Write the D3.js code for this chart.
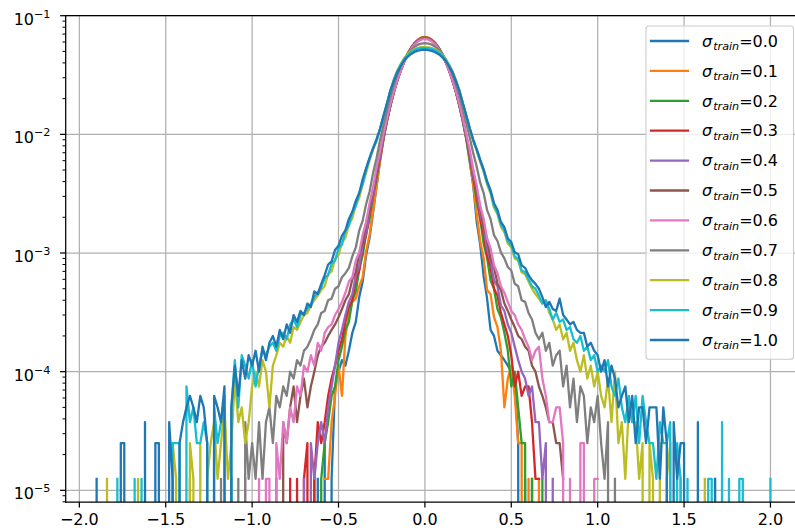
<!DOCTYPE html>
<html>
<head>
<meta charset="utf-8">
<script src="https://cdn.jsdelivr.net/npm/d3@7"></script>
<style>
  body { margin: 0; background: #ffffff; }
  svg { display: block; }
  text { font-family: "DejaVu Sans", sans-serif; }
</style>
</head>
<body>
<svg id="chart" width="795" height="531"></svg>
<script>
// ---------------- data ----------------
const sigmaLabels = ["0.0", "0.1", "0.2", "0.3", "0.4", "0.5", "0.6", "0.7", "0.8", "0.9", "1.0"];
const seriesColors = ["#1f77b4", "#ff7f0e", "#2ca02c", "#d62728", "#9467bd", "#8c564b",
                      "#e377c2", "#7f7f7f", "#bcbd22", "#17becf", "#1f77b4"];
const totalSamples = 80000;   // counts are divided by this to give the plotted frequency
const binWidth = 0.02;        // histogram bin width (x units)
const firstBinCenter = [-0.62, -0.58, -0.64, -0.78, -0.70, -0.86, -1.04, -1.36, -1.84, -1.78, -1.90];

const countsS00 = [1,0,2,0,1,6,8,10,9,
  12,17,21,34,46,77,108,176,290,478,730,1030,1380,1800,2290,2770,3300,3790,4260,4690,4970,5190,5240,5170,4990,4670,4280,3810,3290,2790,2270,1820,1390,1020,720,462,296,146,94,51,33,18,16,12,11,
  10,9,8,7,2,0,1,0,1];
const countsS01 = [1,1,3,5,9,5,16,
  24,31,33,42,50,83,114,180,292,470,720,1020,1390,1810,2300,2800,3320,3830,4300,4720,5020,5240,5300,5230,5030,4710,4310,3820,3330,2810,2310,1830,1410,1040,740,486,294,170,101,73,39,36,23,19,12,
  4,7,9,5,2,2,0,1,0,0,1];
const countsS02 = [1,0,1,2,3,5,6,10,13,18,
  21,32,38,58,77,116,155,241,338,507,735,1040,1400,1820,2290,2790,3300,3800,4270,4680,4990,5190,5250,5180,4980,4690,4280,3800,3290,2770,2280,1810,1390,1030,730,494,342,219,155,96,73,47,40,27,23,
  17,12,6,8,4,2,2,0,1,0,0,1];
const countsS03 = [1,0,1,0,1,2,0,1,3,2,3,5,7,9,12,15,21,
  28,32,47,57,88,114,173,240,361,503,745,1050,1410,1830,2300,2790,3300,3790,4250,4660,4970,5180,5230,5170,4970,4670,4270,3800,3300,2790,2290,1830,1410,1050,750,522,343,246,157,116,76,61,40,35,25,
  20,16,11,6,8,5,6,6,3,1,1];
const countsS04 = [1,0,2,1,2,3,2,4,6,9,14,18,24,
  31,36,52,62,94,119,181,246,372,518,750,1045,1395,1800,2270,2760,3270,3770,4230,4630,4930,5130,5190,5130,4940,4640,4240,3780,3280,2770,2270,1800,1390,1040,755,537,361,262,172,130,86,69,47,42,29,
  26,20,17,13,10,8,7,5,6,3,3,1,2,0,1];
const countsS05 = [1,0,3,2,4,6,3,5,7,4,6,8,11,13,14,16,18,20,23,27,32,
  36,48,55,80,96,143,185,277,378,557,770,1060,1410,1810,2260,2750,3260,3760,4210,4600,4900,5090,5150,5090,4900,4600,4210,3760,3260,2750,2260,1810,1410,1060,770,543,392,264,196,133,104,72,61,44,39,
  30,26,22,19,16,15,13,12,9,8,6,5,4,3,3,2,2,1];
const countsS06 = [1,0,0,0,1,0,1,1,0,2,1,3,2,4,3,6,5,9,8,11,9,14,12,17,19,20,24,27,31,37,
  46,50,69,81,114,146,211,284,417,573,800,1090,1440,1840,2280,2760,3260,3750,4190,4570,4860,5040,5100,5040,4860,4570,4190,3750,3260,2760,2280,1840,1440,1090,800,587,403,296,199,155,106,88,63,54,42,
  37,31,26,24,20,18,15,13,10,12,13,7,5,3,3,4,4,2,0,1,0,0,2,2,0,0,1,1];
const countsS07 = [1,0,0,0,0,0,0,0,0,1,0,0,1,0,1,0,3,1,2,1,3,1,3,4,2,5,4,6,5,8,7,10,9,12,13,15,18,20,25,26,32,33,40,42,50,54,
  60,75,89,124,150,207,264,377,503,708,960,1280,1680,2110,2560,3000,3440,3820,4130,4380,4560,4660,4700,4660,4560,4380,4130,3820,3440,3000,2560,2120,1700,1300,990,748,553,427,313,256,184,155,113,101,81,
  72,61,57,44,42,32,31,25,22,17,15,17,12,14,9,11,12,6,9,4,7,3,6,5,2,4,3,5,2,1,3,0,1];
const countsS08 = [1,0,0,0,0,0,0,0,0,1,0,0,0,0,0,0,0,0,0,2,1,0,0,0,2,1,0,2,0,1,2,3,1,2,4,1,2,7,3,4,2,3,6,8,6,10,8,4,9,11,14,13,16,14,19,18,21,24,25,29,32,35,39,
  42,53,56,71,77,98,108,139,157,202,234,305,380,485,600,700,870,1120,1450,1880,2310,2750,3130,3500,3790,4010,4170,4280,4340,4350,4330,4260,4150,3980,3750,3460,3100,2720,2290,1870,1460,1130,880,700,580,470,386,303,254,193,170,133,120,96,89,72,69,55,53,
  46,40,36,33,30,32,25,22,18,20,15,17,12,14,10,8,11,7,9,6,8,5,4,7,3,8,2,3,1,4,3,3,1,2,0,2,1,0,2,0,1,2,0,0,1,0,0,0,0,0,0,1];
const countsS09 = [1,0,0,0,0,1,0,1,0,0,0,0,0,0,0,0,2,2,2,0,6,3,4,2,2,3,2,0,4,2,3,5,0,4,10,4,11,9,7,10,6,9,12,11,13,14,12,16,17,15,20,22,19,24,25,27,30,34,37,41,
  49,52,65,69,88,94,123,136,175,199,256,304,405,500,610,710,880,1130,1450,1870,2290,2720,3090,3450,3730,3950,4110,4220,4280,4290,4270,4200,4090,3920,3700,3420,3060,2690,2270,1860,1460,1140,890,710,590,480,396,313,261,200,175,139,124,100,93,75,71,57,55,
  48,42,40,35,30,32,27,22,25,21,22,18,19,15,14,16,12,13,10,11,8,9,8,10,6,5,7,4,3,5,3,5,2,5,3,2,2,1,3,2,2,3,0,2,1,0,1,0,0,0,0,0,1,1,0,0,3,0,1,0,0,1,1,0,0,0,0,0,0,0,1];
const countsS10 = [1,0,0,0,0,0,0,2,2,0,0,0,0,0,3,0,0,2,2,0,0,3,1,0,2,3,4,5,4,3,5,4,2,0,5,4,3,6,0,4,9,5,10,7,11,9,12,8,13,10,14,16,13,18,15,20,17,24,21,26,24,30,28,38,36,44,
  52,64,68,85,92,112,124,155,178,220,256,336,415,510,610,730,890,1140,1440,1850,2250,2650,3000,3360,3600,3810,3960,4060,4120,4140,4110,4040,3940,3790,3580,3330,2990,2640,2230,1840,1450,1150,900,720,600,490,406,323,271,210,185,146,132,106,99,81,78,63,60,
  52,47,44,40,34,28,31,27,26,33,24,22,20,21,18,17,17,13,14,12,11,8,10,6,9,7,4,5,6,3,5,2,4,4,2,4,4,4,1,4,2,0,3,1,2,2,0,0,0,3,0,0,0,0,1];

const seriesCounts = [countsS00, countsS01, countsS02, countsS03, countsS04, countsS05,
                      countsS06, countsS07, countsS08, countsS09, countsS10];

const xTickValues = [-2.0, -1.5, -1.0, -0.5, 0.0, 0.5, 1.0, 1.5, 2.0];
const yTickExponents = [-5, -4, -3, -2, -1];

// ---------------- layout ----------------
const W = 795, H = 531;
const plotLeft = 65.7, plotTop = 15.7, plotBottom = 502, plotRight = 805;
const xDomain = [-2.079, 2.2];
const yDomain = [7.97e-6, 0.1];
const fontSize = 16;

const svg = d3.select("#chart");
svg.append("rect").attr("width", W).attr("height", H).attr("fill", "#ffffff");

const x = d3.scaleLinear().domain(xDomain).range([plotLeft, plotRight]);
const y = d3.scaleLog().domain(yDomain).range([plotBottom, plotTop]);

svg.append("defs").append("clipPath").attr("id", "plotClip")
  .append("rect").attr("x", plotLeft).attr("y", plotTop)
  .attr("width", plotRight - plotLeft).attr("height", plotBottom - plotTop);

// grid
const grid = svg.append("g").attr("stroke", "#b0b0b0").attr("stroke-width", 1.25);
grid.selectAll("line.gx").data(xTickValues).join("line")
  .attr("x1", d => x(d)).attr("x2", d => x(d))
  .attr("y1", plotTop).attr("y2", plotBottom);
grid.selectAll("line.gy").data(yTickExponents).join("line")
  .attr("x1", plotLeft).attr("x2", plotRight)
  .attr("y1", d => y(Math.pow(10, d))).attr("y2", d => y(Math.pow(10, d)));

// series (empty bins fall off the bottom of the log axis, as in the original)
const lineGen = d3.line()
  .x(d => x(d.x))
  .y(d => d.v > 0 ? y(d.v) : plotBottom + 6000);

const seriesData = seriesCounts.map((arr, s) => arr.map((c, i) => ({
  x: firstBinCenter[s] + i * binWidth,
  v: c / totalSamples
})));

const linesG = svg.append("g").attr("clip-path", "url(#plotClip)");
linesG.selectAll("path").data(seriesData).join("path")
  .attr("d", d => lineGen(d))
  .attr("fill", "none")
  .attr("stroke", (d, i) => seriesColors[i])
  .attr("stroke-width", 2.3)
  .attr("stroke-linejoin", "round")
  .attr("stroke-linecap", "square");

// axes (spines + ticks)
const axisG = svg.append("g");
axisG.append("line").attr("x1", plotLeft).attr("x2", plotLeft).attr("y1", plotTop).attr("y2", plotBottom)
  .attr("stroke", "#000").attr("stroke-width", 1.25).attr("stroke-linecap", "square");
axisG.append("line").attr("x1", plotLeft).attr("x2", plotRight).attr("y1", plotBottom).attr("y2", plotBottom)
  .attr("stroke", "#000").attr("stroke-width", 1.25).attr("stroke-linecap", "square");
axisG.append("line").attr("x1", plotLeft).attr("x2", plotRight).attr("y1", plotTop).attr("y2", plotTop)
  .attr("stroke", "#000").attr("stroke-width", 1.25).attr("stroke-linecap", "square");

// x axis ticks & labels
const fmt = d3.format(".1f");
axisG.selectAll("line.xt").data(xTickValues).join("line")
  .attr("x1", d => x(d)).attr("x2", d => x(d))
  .attr("y1", plotBottom).attr("y2", plotBottom + 5.6)
  .attr("stroke", "#000").attr("stroke-width", 1.25);
axisG.selectAll("text.xl").data(xTickValues).join("text")
  .attr("x", d => x(d)).attr("y", 525)
  .attr("text-anchor", "middle").attr("font-size", fontSize).attr("fill", "#000")
  .text(d => fmt(d));

// y axis major ticks
axisG.selectAll("line.yt").data(yTickExponents).join("line")
  .attr("x1", plotLeft - 5.6).attr("x2", plotLeft)
  .attr("y1", d => y(Math.pow(10, d))).attr("y2", d => y(Math.pow(10, d)))
  .attr("stroke", "#000").attr("stroke-width", 1.25);
// y axis minor ticks
const minorTicks = [];
for (let e = -6; e <= -2; e++) {
  for (let m = 2; m <= 9; m++) {
    const v = m * Math.pow(10, e);
    if (v >= yDomain[0] && v <= yDomain[1]) minorTicks.push(v);
  }
}
axisG.selectAll("line.ym").data(minorTicks).join("line")
  .attr("x1", plotLeft - 3.2).attr("x2", plotLeft)
  .attr("y1", d => y(d)).attr("y2", d => y(d))
  .attr("stroke", "#000").attr("stroke-width", 1);
// y labels 10^e
const yl = axisG.selectAll("text.yl").data(yTickExponents).join("text")
  .attr("x", 50.5).attr("y", d => y(Math.pow(10, d)) + 9)
  .attr("text-anchor", "end").attr("font-size", fontSize).attr("fill", "#000");
yl.append("tspan").text("10");
yl.append("tspan").attr("dy", -7).attr("font-size", fontSize * 0.7)
  .text(d => "\u2212" + Math.abs(d));

// legend
const legX = 646, legY = 26, legW = 147.5, legH = 333.3;
const legend = svg.append("g");
legend.append("rect")
  .attr("x", legX).attr("y", legY).attr("width", legW).attr("height", legH)
  .attr("rx", 3).attr("ry", 3)
  .attr("fill", "#ffffff").attr("fill-opacity", 0.8)
  .attr("stroke", "#cccccc").attr("stroke-width", 1.1);
const entrySpacing = 29.9, firstEntryY = 41;
const entries = legend.selectAll("g.entry").data(sigmaLabels).join("g")
  .attr("transform", (d, i) => `translate(0,${firstEntryY + i * entrySpacing})`);
entries.append("line")
  .attr("x1", 651).attr("x2", 688).attr("y1", 0).attr("y2", 0)
  .attr("stroke", (d, i) => seriesColors[i]).attr("stroke-width", 2.3)
  .attr("stroke-linecap", "square");
const lt = entries.append("text").attr("x", 702).attr("y", 5.7)
  .attr("font-size", fontSize).attr("fill", "#000");
lt.append("tspan").attr("font-style", "italic").text("\u03c3");
lt.append("tspan").attr("font-style", "italic").attr("font-size", fontSize * 0.7)
  .attr("dy", 3.6).attr("dx", 1).text("train");
lt.append("tspan").attr("dy", -3.6).text(d => "=" + d);
</script>
</body>
</html>
